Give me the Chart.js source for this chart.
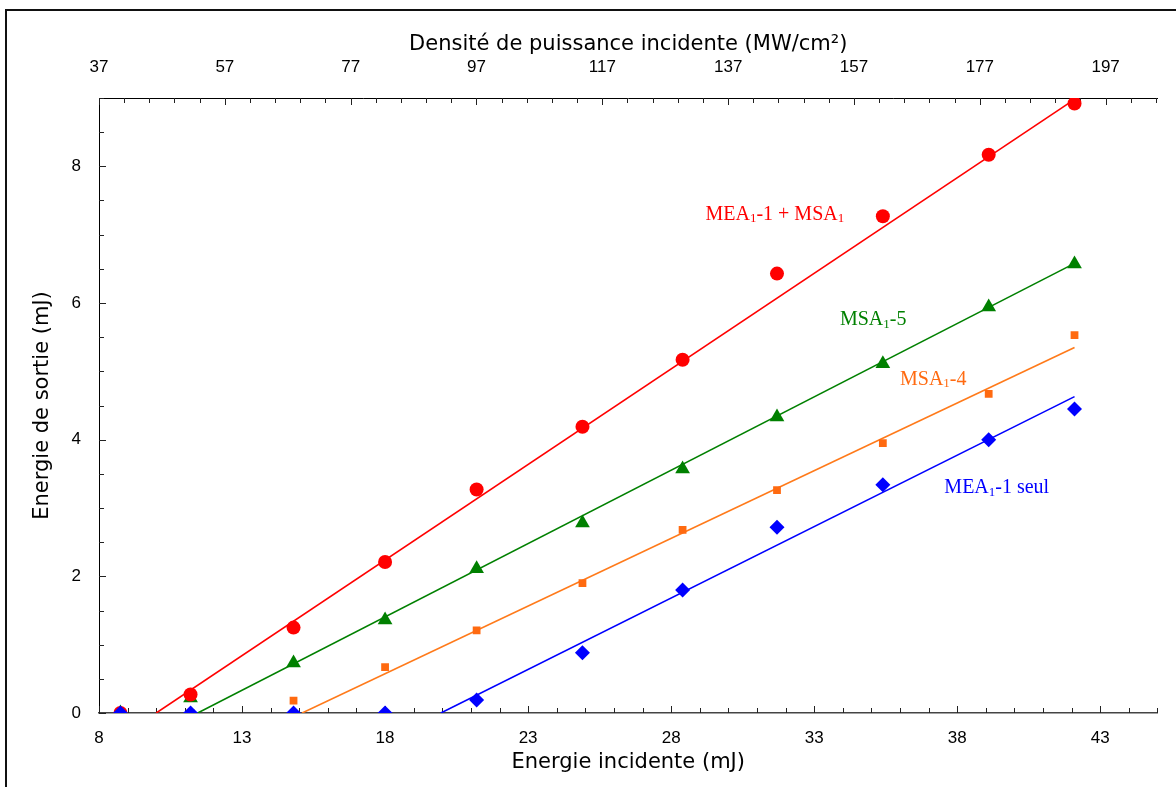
<!DOCTYPE html>
<html>
<head>
<meta charset="utf-8">
<script src="https://cdn.jsdelivr.net/npm/chart.js@4/dist/chart.umd.min.js"></script>
<style>
    body { margin: 0; background: #fff; }
    canvas { display: block; }
</style>
</head>
<body>
<canvas id="myChart" width="1176" height="787"></canvas>
<script>
// energie incidente (mJ)
const energie = [8.75, 11.2, 14.8, 18, 21.2, 24.9, 28.4, 31.7, 35.4, 39.1, 42.1]

// energie de sortie (mJ)
const meaMsa = [0, 0.27, 1.25, 2.21, 3.27, 4.19, 5.17, 6.43, 7.27, 8.17, 8.92]
const msa5 = [0, 0.22, 0.73, 1.36, 2.11, 2.78, 3.57, 4.33, 5.11, 5.94, 6.57]
const msa4 = [0, 0, 0.18, 0.67, 1.21, 1.90, 2.68, 3.26, 3.95, 4.67, 5.53]
const meaSeul = [0, 0, 0, 0, 0.19, 0.88, 1.80, 2.72, 3.34, 4.00, 4.45]

// droites de regression : [x debut, x fin], [y debut, y fin]
const fitX = {meaMsa: [10.0, 42.1], msa5: [11.45, 42.1], msa4: [15.1, 42.1], meaSeul: [19.95, 42.1]}
const fitY = {meaMsa: [0, 8.98], msa5: [0, 6.58], msa4: [0, 5.35], meaSeul: [0, 4.63]}

// graduations
const xLabels = [8, 13, 18, 23, 28, 33, 38, 43]
const topLabels = [37, 57, 77, 97, 117, 137, 157, 177, 197]
const yLabels = [0, 2, 4, 6, 8]

const seriesNames = [
    ['MEA', '1', '-1 + MSA', '1'],
    ['MSA', '1', '-5'],
    ['MSA', '1', '-4'],
    ['MEA', '1', '-1 seul']
]

const xMin = 8
const xMax = 45
const densiteParMJ = 4.547
const topMin = 37
const topMax = topMin + (xMax - xMin) * densiteParMJ

const red = '#ff0000'
const green = '#008000'
const orange = '#ff6a10'
const blue = '#0000ff'

const toPoints = (ys) => energie.map((x, i) => ({x: x, y: ys[i]}))
const toLine = (key) => fitX[key].map((x, i) => ({x: x, y: fitY[key][i]}))

const axisFont = {family: 'DejaVu Sans', size: 21}
const tickFont = {family: 'Liberation Sans', size: 17}

const buildTicks = (labels, step) => (scale) => {
    let ticks = []
    for (let v = scale.min; v <= scale.max + 1e-9; v += step) {
        ticks.push({value: Math.round(v * 1000) / 1000})
    }
    scale.ticks = ticks
}
const showLabel = (labels) => (value) => labels.includes(value) ? String(value) : ''

const insideTicks = {
    id: 'insideTicks',
    beforeDatasetsDraw(chart) {
        const ctx = chart.ctx
        const area = chart.chartArea
        ctx.save()
        ctx.strokeStyle = '#222'
        ctx.lineWidth = 1
        const draw = (scale, labels, side) => {
            scale.ticks.forEach(t => {
                const p = Math.round(scale.getPixelForValue(t.value)) + 0.5
                const len = labels.includes(t.value) ? 7 : 5
                ctx.beginPath()
                if (side === 'bottom') { ctx.moveTo(p, area.bottom); ctx.lineTo(p, area.bottom - len) }
                if (side === 'top') { ctx.moveTo(p, area.top); ctx.lineTo(p, area.top + len) }
                if (side === 'left') { ctx.moveTo(area.left, p); ctx.lineTo(area.left + len, p) }
                ctx.stroke()
            })
        }
        draw(chart.scales.x, xLabels, 'bottom')
        draw(chart.scales.x2, topLabels, 'top')
        draw(chart.scales.y, yLabels, 'left')
        ctx.restore()
    }
}

const frame = {
    id: 'frame',
    beforeDraw(chart) {
        const ctx = chart.ctx
        ctx.save()
        ctx.fillStyle = '#fff'
        ctx.fillRect(0, 0, chart.width, chart.height)
        ctx.strokeStyle = '#111'
        ctx.lineWidth = 2
        ctx.beginPath()
        ctx.moveTo(6, chart.height)
        ctx.lineTo(6, 10)
        ctx.lineTo(chart.width, 10)
        ctx.stroke()
        ctx.restore()
    }
}

// noms des series avec indices
const seriesLabels = {
    id: 'seriesLabels',
    afterDatasetsDraw(chart) {
        const ctx = chart.ctx
        const sx = chart.scales.x
        const sy = chart.scales.y
        const places = [[29.2, 7.29, red], [33.9, 5.75, green], [36.0, 4.88, orange], [37.55, 3.29, blue]]
        ctx.save()
        ctx.textBaseline = 'middle'
        seriesNames.forEach((parts, i) => {
            let x = sx.getPixelForValue(places[i][0])
            const y = sy.getPixelForValue(places[i][1])
            ctx.fillStyle = places[i][2]
            parts.forEach((txt, j) => {
                const sub = j % 2 === 1
                ctx.font = sub ? '13px "Liberation Serif"' : '20px "Liberation Serif"'
                ctx.fillText(txt, x, sub ? y + 4 : y)
                x += ctx.measureText(txt).width
            })
        })
        ctx.restore()
    }
}

let myChart = document.querySelector('#myChart').getContext('2d')

let resultChart = new Chart(myChart, {
    type: 'scatter',
    data: {
        datasets: [
            {label: 'MEA1-1 seul', data: toPoints(meaSeul), pointStyle: 'rectRot', pointRadius: 7.5, backgroundColor: blue, borderColor: blue, borderWidth: 0},
            {label: 'MEA1-1 + MSA1', data: toPoints(meaMsa), pointStyle: 'circle', pointRadius: 7, backgroundColor: red, borderColor: red, borderWidth: 0},
            {label: 'MSA1-4', data: toPoints(msa4), pointStyle: 'rect', pointRadius: 5.5, backgroundColor: orange, borderColor: orange, borderWidth: 0},
            {label: 'MSA1-5', data: toPoints(msa5), pointStyle: 'triangle', pointRadius: 8.5, backgroundColor: green, borderColor: green, borderWidth: 0},
            {type: 'line', data: toLine('meaMsa'), borderColor: red, borderWidth: 1.6, pointRadius: 0},
            {type: 'line', data: toLine('msa5'), borderColor: green, borderWidth: 1.6, pointRadius: 0},
            {type: 'line', data: toLine('msa4'), borderColor: '#ff7a1a', borderWidth: 1.6, pointRadius: 0},
            {type: 'line', data: toLine('meaSeul'), borderColor: blue, borderWidth: 1.6, pointRadius: 0}
        ]
    },
    options: {
        responsive: false,
        animation: false,
        layout: {padding: {left: 0, right: 17, top: 0, bottom: 0}},
        plugins: {legend: {display: false}, tooltip: {enabled: false}},
        scales: {
            x: {
                type: 'linear', position: 'bottom', min: xMin, max: xMax,
                afterBuildTicks: buildTicks(xLabels, 1),
                afterFit: (s) => { s.height = 74 },
                grid: {display: false, drawTicks: false},
                border: {display: true, color: '#444', width: 1.5},
                ticks: {callback: showLabel(xLabels), font: tickFont, color: '#000', padding: 15, maxRotation: 0, autoSkip: false},
                title: {display: true, text: 'Energie incidente (mJ)', font: axisFont, color: '#000', padding: {top: 0, bottom: 12}}
            },
            x2: {
                type: 'linear', position: 'top', min: topMin, max: topMax,
                afterBuildTicks: buildTicks(topLabels, 4),
                afterFit: (s) => { s.height = 98 },
                grid: {display: false, drawTicks: false},
                border: {display: true, color: '#000', width: 1},
                ticks: {callback: showLabel(topLabels), font: tickFont, color: '#000', padding: 20, maxRotation: 0, autoSkip: false},
                title: {display: true, text: 'Densité de puissance incidente (MW/cm²)', font: axisFont, color: '#000', padding: {top: 32, bottom: 0}}
            },
            y: {
                type: 'linear', position: 'left', min: 0, max: 9,
                afterBuildTicks: buildTicks(yLabels, 0.5),
                afterFit: (s) => { s.width = 99 },
                grid: {display: false, drawTicks: false},
                border: {display: true, color: '#000', width: 1},
                ticks: {callback: showLabel(yLabels), font: tickFont, color: '#000', padding: 18, autoSkip: false},
                title: {display: true, text: 'Energie de sortie (mJ)', font: axisFont, color: '#000', padding: {top: 30, bottom: 0}}
            }
        }
    },
    plugins: [frame, insideTicks, seriesLabels]
})
</script>
</body>
</html>
